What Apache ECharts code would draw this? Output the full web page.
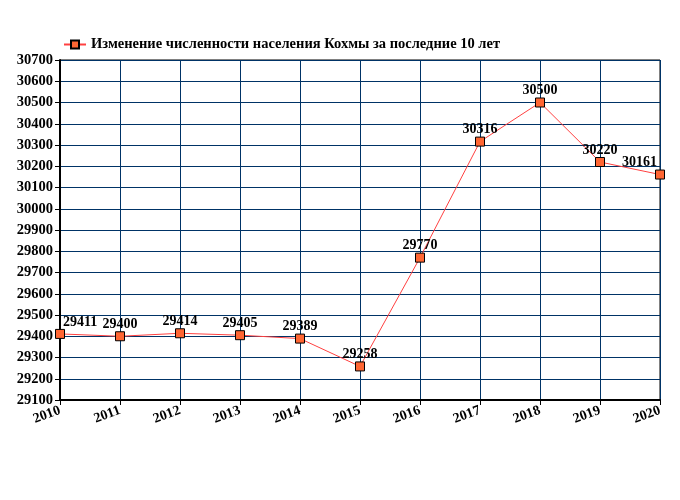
<!DOCTYPE html>
<html><head><meta charset="utf-8">
<script src="https://cdn.jsdelivr.net/npm/echarts@6/dist/echarts.min.js"></script>
<style>html,body{margin:0;padding:0;background:#fff}#c{width:680px;height:500px}</style>
</head><body><div id="c"></div>
<script>
var years = ['2010','2011','2012','2013','2014','2015','2016','2017','2018','2019','2020'];
var population = [29411, 29400, 29414, 29405, 29389, 29258, 29770, 30316, 30500, 30220, 30161];
var seriesName = 'Изменение численности населения Кохмы за последние 10 лет';
var FONT = '"Liberation Serif", "Times New Roman", serif';
var chart = echarts.init(document.getElementById('c'));
var data = population.map(function (v, i) {
  var item = { value: v };
  if (i === 0) item.label = { align: 'left', offset: [3, 0] };
  if (i === population.length - 1) item.label = { align: 'right', offset: [-3, 0] };
  return item;
});
chart.setOption({
  animation: false,
  legend: {
    left: 58, top: 32, itemWidth: 22, itemHeight: 10, itemGap: 4,
    textStyle: { fontFamily: FONT, fontWeight: 'bold', fontSize: 14.5, color: '#000' },
    data: [seriesName]
  },
  grid: { left: 60, right: 20, top: 60, bottom: 100, show: true, borderColor: '#000', borderWidth: 1 },
  xAxis: {
    type: 'category', data: years, boundaryGap: false,
    axisLine: { show: true, lineStyle: { color: '#000', width: 2 } },
    axisTick: { show: true, length: 5, lineStyle: { color: '#000' } },
    axisLabel: { rotate: 20, margin: 10, fontFamily: FONT, fontWeight: 'bold', fontSize: 14, color: '#000' },
    splitLine: { show: true, lineStyle: { color: '#003366', width: 1 } }
  },
  yAxis: {
    type: 'value', min: 29100, max: 30700, interval: 100,
    axisLine: { show: true, lineStyle: { color: '#000', width: 2 } },
    axisTick: { show: true, length: 5, lineStyle: { color: '#000' } },
    axisLabel: { margin: 7, fontFamily: FONT, fontWeight: 'bold', fontSize: 14.5, color: '#000',
      formatter: function (v) { return String(v); } },
    splitLine: { show: true, lineStyle: { color: '#003366', width: 1 } }
  },
  series: [{
    name: seriesName, type: 'line', data: data,
    symbol: 'rect', symbolSize: 9,
    itemStyle: { color: '#ff6633', borderColor: '#000', borderWidth: 1 },
    lineStyle: { color: '#ff4040', width: 1 },
    label: { show: true, position: 'top', distance: 0, fontFamily: FONT, fontWeight: 'bold', fontSize: 14, color: '#000' }
  }]
});
</script></body></html>
